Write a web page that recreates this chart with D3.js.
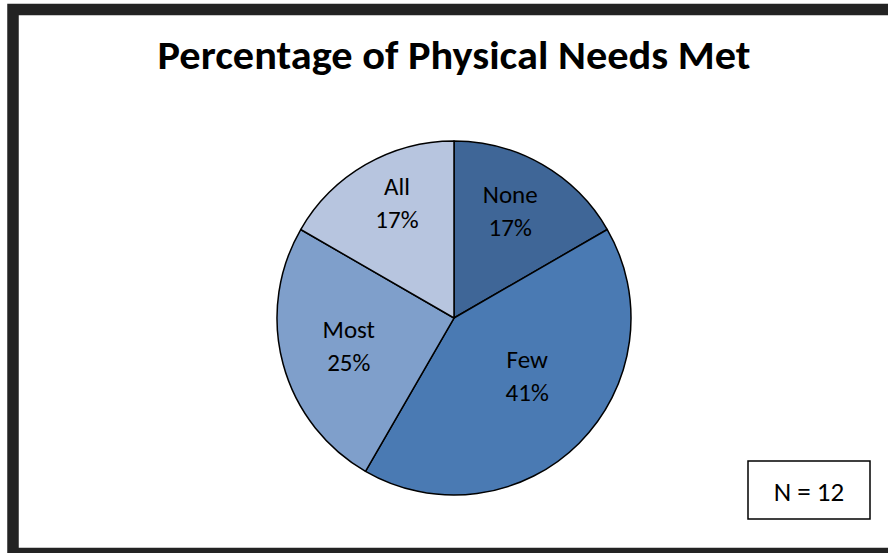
<!DOCTYPE html>
<html><head><meta charset="utf-8">
<script src="https://cdn.jsdelivr.net/npm/d3@7"></script>
<style>html,body{margin:0;padding:0;background:#fff;}svg{display:block;}</style>
</head><body>
<svg id="chart" width="888" height="553"></svg>
<script>
const title = "Percentage of Physical Needs Met";
const categories = ["None", "Few", "Most", "All"];
const counts = [2, 5, 3, 2];
const percentLabels = ["17%", "41%", "25%", "17%"];
const nLabel = "N = 12";

const colors = ["#3F6697", "#4A7AB3", "#7F9FCB", "#B7C5DF"];
const labelRadiusFactor = [0.67, 0.54, 0.62, 0.71];
const labelAngleShiftDeg = [-1.7, -5, -1.5, 3];

const svg = d3.select("#chart");
const W = 888, H = 553;
svg.append("rect").attr("width", W).attr("height", H).attr("fill", "#fff");
svg.append("rect").attr("x", 13).attr("y", 9.5).attr("width", 900).attr("height", 544)
  .attr("fill", "#fff").attr("stroke", "#232323").attr("stroke-width", 11.5);

const font = "Carlito, Calibri, 'Open Sans', sans-serif";
svg.append("text").attr("x", 454).attr("y", 69).attr("text-anchor", "middle")
  .attr("font-family", font).attr("font-weight", "bold").attr("font-size", 40)
  .attr("textLength", 593).attr("lengthAdjust", "spacingAndGlyphs")
  .attr("fill", "#000").text(title);

const cx = 454, cy = 318, R = 177;
const pie = d3.pie().sort(null).value(d => d);
const arcs = pie(counts);
const arc = d3.arc().innerRadius(0).outerRadius(R);
const g = svg.append("g").attr("transform", `translate(${cx},${cy})`);
g.selectAll("path").data(arcs).join("path")
  .attr("d", arc).attr("fill", (d, i) => colors[i])
  .attr("stroke", "#000").attr("stroke-width", 1.5).attr("stroke-linejoin", "round");

arcs.forEach((d, i) => {
  const a = (d.startAngle + d.endAngle) / 2 + labelAngleShiftDeg[i] * Math.PI / 180;
  const r = R * labelRadiusFactor[i];
  const x = Math.sin(a) * r, y = -Math.cos(a) * r;
  const t = g.append("text").attr("text-anchor", "middle")
    .attr("font-family", font).attr("font-size", 25).attr("fill", "#000");
  t.append("tspan").attr("x", x).attr("y", y - 11).text(categories[i]);
  t.append("tspan").attr("x", x).attr("y", y + 22).text(percentLabels[i]);
});

svg.append("rect").attr("x", 748).attr("y", 461).attr("width", 122).attr("height", 58)
  .attr("fill", "#fff").attr("stroke", "#000").attr("stroke-width", 1.5);
svg.append("text").attr("x", 809).attr("y", 501).attr("text-anchor", "middle")
  .attr("font-family", font).attr("font-size", 27).attr("fill", "#000").text(nLabel);
</script>
</body></html>
